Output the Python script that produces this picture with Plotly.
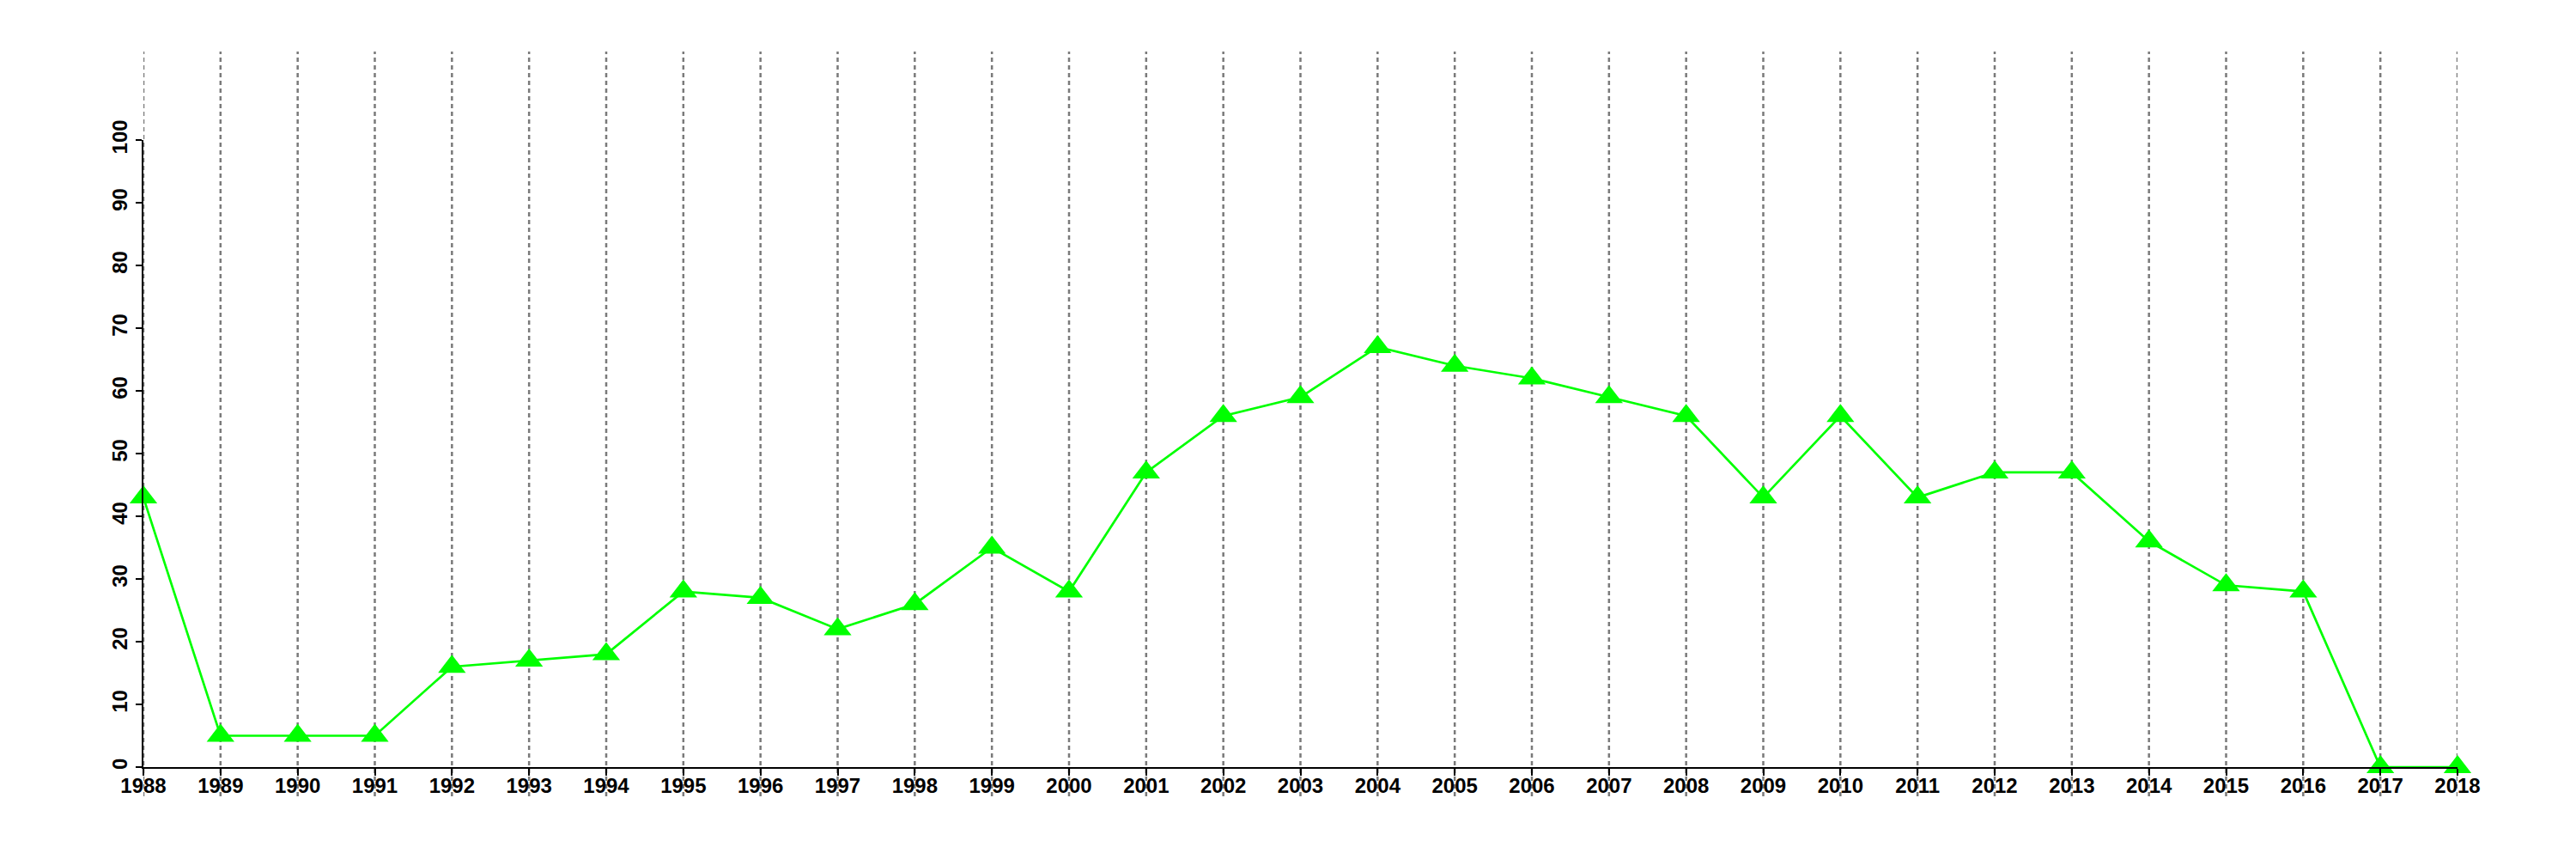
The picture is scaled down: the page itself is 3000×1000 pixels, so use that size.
import plotly.graph_objects as go

years = list(range(1988, 2019))
values = [43, 5, 5, 5, 16, 17, 18, 28, 27, 22, 26, 35, 28, 47, 56, 59, 67, 64, 62, 59,
          56, 43, 56, 43, 47, 47, 36, 29, 28, 0, 0]
y_ticks = [0, 10, 20, 30, 40, 50, 60, 70, 80, 90, 100]

fig = go.Figure()

# vertical dotted grid lines extending beyond the plot area
for yr in years:
    fig.add_shape(type="line", xref="x", yref="paper", x0=yr, x1=yr,
                  y0=-0.0466, y1=1.141, layer="below",
                  line=dict(color="#7a7a7a", width=2.5, dash="5px,4px"))

fig.add_trace(go.Scatter(
    x=years, y=values, mode="lines+markers", cliponaxis=False,
    line=dict(color="#00FF00", width=2.7),
    marker=dict(symbol="triangle-up", size=28, color="#00FF00", line=dict(width=0)),
    showlegend=False,
))

tickfont = dict(family="Liberation Sans, Arial, sans-serif", size=24, color="black", weight="bold")

fig.update_layout(
    width=2984, height=984,
    margin=dict(l=159, r=130, t=155, b=99),
    paper_bgcolor="white", plot_bgcolor="white",
    xaxis=dict(range=[1988, 2018], tickmode="array", tickvals=years,
               ticktext=[str(y) for y in years], showgrid=False, zeroline=False,
               showline=True, linecolor="black", linewidth=2,
               ticks="outside", ticklen=8, tickwidth=2, tickcolor="black",
               tickfont=tickfont, ticklabelstandoff=-9),
    yaxis=dict(range=[0, 100], tickmode="array", tickvals=y_ticks,
               ticktext=[str(v) for v in y_ticks], showgrid=False, zeroline=False,
               showline=True, linecolor="black", linewidth=2,
               ticks="outside", ticklen=7, tickwidth=2, tickcolor="black",
               tickangle=-90, tickfont=tickfont),
)

fig.write_html("out.html")
